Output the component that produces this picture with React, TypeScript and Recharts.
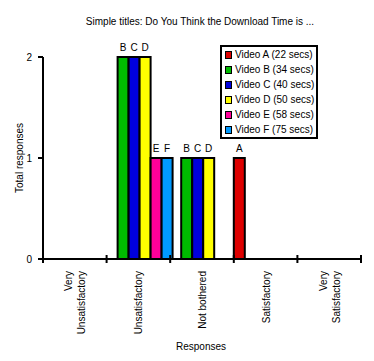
import { BarChart, Bar, XAxis, YAxis, Legend, LabelList } from 'recharts'

// Responses for each category
const categories = ['Very\nUnsatisfactory', 'Unsatisfactory', 'Not bothered', 'Satisfactory', 'Very\nSatisfactory']

const videoA = [0, 0, 0, 1, 0]
const videoB = [0, 2, 1, 0, 0]
const videoC = [0, 2, 1, 0, 0]
const videoD = [0, 2, 1, 0, 0]
const videoE = [0, 1, 0, 0, 0]
const videoF = [0, 1, 0, 0, 0]

const seriesKeys = ['A', 'B', 'C', 'D', 'E', 'F']
const seriesNames = ['Video A (22 secs)', 'Video B (34 secs)', 'Video C (40 secs)', 'Video D (50 secs)', 'Video E (58 secs)', 'Video F (75 secs)']
const seriesValues = [videoA, videoB, videoC, videoD, videoE, videoF]
const COLORS = ['#dd0000', '#00bb00', '#0000dd', '#ffff00', '#ff0099', '#0099ff']

const yTicks = [0, 1, 2]

const data = categories.map((cat, i) => {
  const row: Record<string, string | number> = { cat }
  seriesKeys.forEach((k, s) => { row[k] = seriesValues[s][i] })
  return row
})

const FONT = '"Liberation Sans", Arial, sans-serif'
const PLOT_W = 318
const BAND = PLOT_W / categories.length

const CategoryTick = (props: any) => {
  const { x, y, payload, index } = props
  const lines = String(payload.value).split('\n')
  const left = x - BAND / 2
  const first = x + 4 - ((lines.length - 1) * 13) / 2
  return (
    <g>
      <line x1={left} y1={y - 4} x2={left} y2={y + 4} stroke="#000" strokeWidth={2} />
      {index === categories.length - 1 && (
        <line x1={x + BAND / 2} y1={y - 4} x2={x + BAND / 2} y2={y + 4} stroke="#000" strokeWidth={2} />
      )}
      {lines.map((ln, i) => (
        <text
          key={i}
          x={first + i * 13}
          y={y + 12}
          transform={`rotate(-90, ${first + i * 13}, ${y + 12})`}
          textAnchor="end"
          fontSize={10}
          fontFamily={FONT}
          fill="#000"
        >
          {ln}
        </text>
      ))}
    </g>
  )
}

const LetterLabel = (letter: string) => (props: any) => {
  const { x, y, width, value } = props
  if (!value) return null
  return (
    <text x={x + width / 2} y={y - 6} textAnchor="middle" fontSize={10} fontFamily={FONT} fill="#000">
      {letter}
    </text>
  )
}

const LegendBox = () => (
  <div
    style={{
      border: '2px solid #000',
      background: '#fff',
      width: 91,
      padding: '0 0 0 3px',
      fontFamily: FONT,
      fontSize: 10,
      lineHeight: '15px',
    }}
  >
    {seriesNames.map((name, i) => (
      <div key={name} style={{ display: 'flex', alignItems: 'center', whiteSpace: 'nowrap' }}>
        <span
          style={{
            display: 'inline-block',
            width: 5,
            height: 6,
            background: COLORS[i],
            border: '1px solid #000',
            marginRight: 3,
          }}
        />
        {name}
      </div>
    ))}
  </div>
)

export default function App() {
  return (
    <div style={{ position: 'absolute', left: 0, top: 0, width: 374, height: 361, background: '#fff', fontFamily: FONT }}>
      <div style={{ position: 'absolute', left: 0, width: 400, top: 16, textAlign: 'center', fontSize: 10 }}>
        Simple titles: Do You Think the Download Time is ...
      </div>
      <BarChart
        width={374}
        height={361}
        data={data}
        margin={{ top: 57, right: 13, bottom: 0, left: 0 }}
        barCategoryGap={0}
        barGap={0}
      >
        <XAxis
          dataKey="cat"
          interval={0}
          tickLine={false}
          tickSize={0}
          tickMargin={0}
          height={102}
          axisLine={{ stroke: '#000', strokeWidth: 2 }}
          tick={<CategoryTick />}
        />
        <YAxis
          width={43}
          domain={[0, 2]}
          ticks={yTicks}
          tickSize={5}
          tickMargin={6}
          axisLine={{ stroke: '#000', strokeWidth: 2 }}
          tickLine={{ stroke: '#000', strokeWidth: 2 }}
          tick={{ fill: '#000', fontSize: 10, fontFamily: FONT }}
        />
        <Legend
          layout="horizontal"
          verticalAlign="middle"
          align="center"
          content={<LegendBox />}
          wrapperStyle={{ position: 'absolute', left: 220, top: 45, width: 'auto' }}
        />
        {seriesKeys.map((k, i) => (
          <Bar key={k} dataKey={k} name={seriesNames[i]} fill={COLORS[i]} stroke="#000" strokeWidth={2} isAnimationActive={false}>
            <LabelList dataKey={k} content={LetterLabel(k)} />
          </Bar>
        ))}
      </BarChart>
      <div
        style={{
          position: 'absolute',
          left: 19,
          top: 158,
          fontSize: 10,
          transform: 'translate(-50%, -50%) rotate(-90deg)',
          whiteSpace: 'nowrap',
        }}
      >
        Total responses
      </div>
      <div style={{ position: 'absolute', left: 0, width: 402, top: 341, textAlign: 'center', fontSize: 10 }}>
        Responses
      </div>
    </div>
  )
}
